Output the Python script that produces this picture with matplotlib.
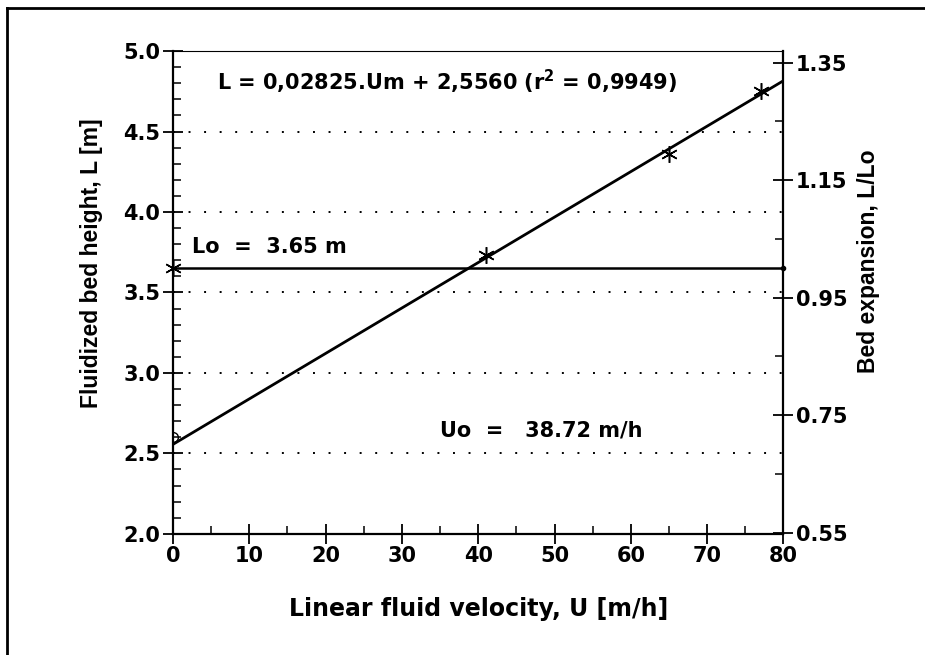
import numpy as np
import matplotlib.pyplot as plt
from matplotlib.ticker import MultipleLocator
from matplotlib.lines import Line2D

plt.rcParams['font.family'] = ['DejaVu Sans']
plt.rcParams['font.weight'] = 'bold'
plt.rcParams['mathtext.fontset'] = 'dejavusans'

# measured points
U_pts = [0, 41, 65, 77]
L_pts = [3.65, 3.73, 4.36, 4.75]
U_start = [0]
L_start = [2.60]

# linear fit L = a*U + b
fit_a = 0.02825
fit_b = 2.5560
Lo = 3.65

fig = plt.figure(figsize=(9.25, 6.55), dpi=100)
ax = fig.add_axes([0.187, 0.185, 0.660, 0.737])

# frame round the figure (left and top only visible)
fig.add_artist(Line2D([0.008, 0.008], [0.0, 0.988], color='black', lw=2))
fig.add_artist(Line2D([0.008, 1.0], [0.988, 0.988], color='black', lw=2))

# dotted grid lines
for g in [2.5, 3.0, 3.5, 4.0, 4.5]:
    ax.axhline(g, color='black', lw=1.4, ls=(0, (1, 7)))

Ux = np.array([0, 80])
ax.plot(Ux, fit_a * Ux + fit_b, color='black', lw=2.0)
ax.plot(Ux, [Lo, Lo], color='black', lw=1.8)
ax.plot([80], [Lo], 'o', color='black', ms=3, clip_on=False)

ax.plot(U_pts, L_pts, ls='none', marker=(6, 2, 0), ms=12, mew=1.1,
        color='black', clip_on=False)
ax.plot(U_start, L_start, ls='none', marker='o', ms=7, mfc='none',
        mec='black', mew=1.0)

ax.set_xlim(0, 80)
ax.set_ylim(2.0, 5.0)
ax.xaxis.set_major_locator(MultipleLocator(10))
ax.xaxis.set_minor_locator(MultipleLocator(5))
ax.yaxis.set_major_locator(MultipleLocator(0.5))
ax.yaxis.set_minor_locator(MultipleLocator(0.1))
ax.yaxis.set_major_formatter(plt.FormatStrFormatter('%.1f'))

ax.tick_params(which='major', direction='inout', length=14, width=1.3,
               labelsize=15, pad=2)
ax.tick_params(which='minor', direction='in', length=6, width=1.1)

for s in ax.spines.values():
    s.set_linewidth(1.6)
ax.spines['top'].set_linewidth(0.8)

ax.set_xlabel('Linear fluid velocity, U [m/h]', fontsize=17, fontweight='bold',
              labelpad=22)
ax.set_ylabel('Fluidized bed height, L [m]', fontsize=16.5, fontweight='heavy',
              family='Liberation Sans')
ax.yaxis.set_label_coords(-0.115, 0.56)

# right axis: bed expansion L/Lo
ax2 = ax.twinx()
ax2.set_ylim(2.0 / Lo, 5.0 / Lo)
ax2.yaxis.set_major_locator(plt.FixedLocator([0.55, 0.75, 0.95, 1.15, 1.35]))
ax2.yaxis.set_minor_locator(plt.FixedLocator([0.65, 0.85, 1.05, 1.25]))
ax2.yaxis.set_major_formatter(plt.FormatStrFormatter('%.2f'))
ax2.tick_params(which='major', direction='inout', length=14, width=1.3,
                labelsize=15, pad=2)
ax2.tick_params(which='minor', direction='in', length=6, width=1.1)
for s in ax2.spines.values():
    s.set_visible(False)
ax2.set_ylabel('Bed expansion, L/Lo', fontsize=16.5, fontweight='heavy',
               family='Liberation Sans')
ax2.yaxis.set_label_coords(1.12, 0.565)

ax.text(5.8, 4.81, 'L = 0,02825.Um + 2,5560 (r$^{\\mathbf{2}}$ = 0,9949)',
        fontsize=15, fontweight='bold', va='center')
ax.text(2.5, 3.78, 'Lo  =  3.65 m', fontsize=15, fontweight='bold',
        va='center')
ax.text(35.0, 2.64, 'Uo  =   38.72 m/h', fontsize=15, fontweight='bold',
        va='center')

fig.savefig('out.png', dpi=100)
